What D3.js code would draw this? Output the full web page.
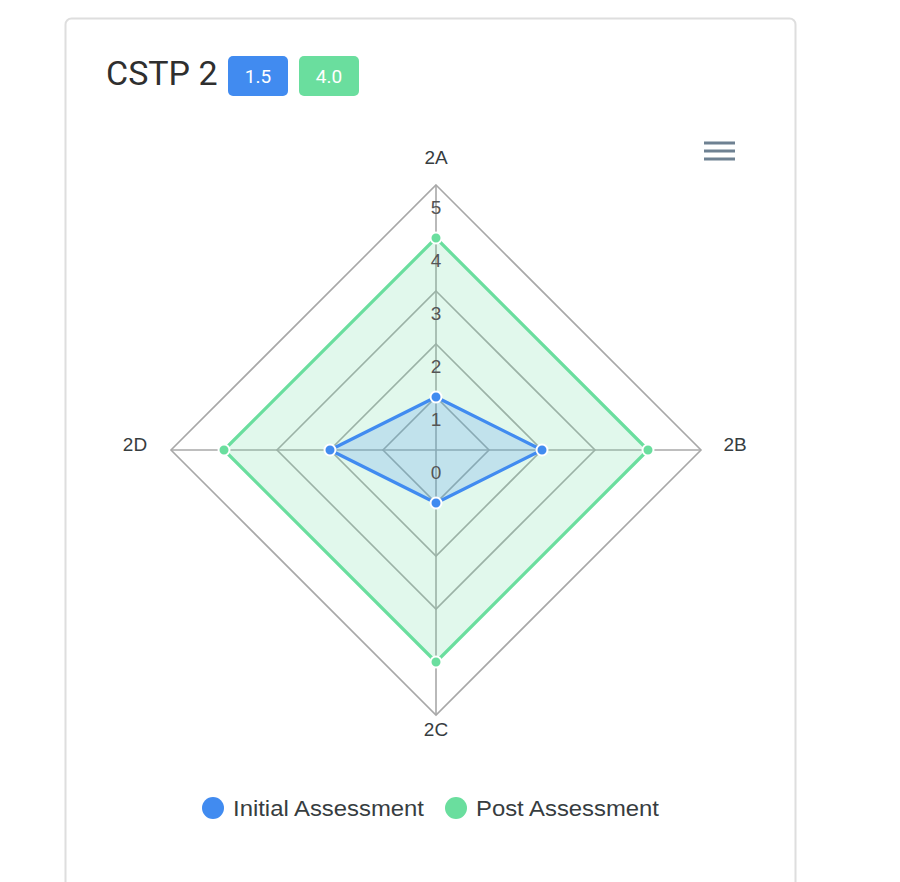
<!DOCTYPE html>
<html>
<head>
<meta charset="utf-8">
<script src="https://cdn.jsdelivr.net/npm/d3@7"></script>
<style>
  body { margin: 0; background: #fff; }
  svg { display: block; }
</style>
</head>
<body>
<div id="chart"></div>
<script>
// Data
const categories = ['2A', '2B', '2C', '2D'];
const initialValues = [1, 2, 1, 2];
const postValues = [4, 4, 4, 4];
const levelTicks = [0, 1, 2, 3, 4, 5];
const seriesNames = ['Initial Assessment', 'Post Assessment'];
const badgeValues = ['1.5', '4.0'];

const colors = ['#418bf0', '#6ade9e'];

const width = 900, height = 882;
const cx = 436, cy = 450, radius = 265;

const svg = d3.select('#chart').append('svg')
    .attr('width', width)
    .attr('height', height);

// Card
svg.append('rect')
    .attr('x', 65.5).attr('y', 18.5)
    .attr('width', 730).attr('height', 900)
    .attr('rx', 6)
    .attr('fill', '#fff')
    .attr('stroke', '#dedede')
    .attr('stroke-width', 2);

// Title + badges
svg.append('text')
    .attr('x', 106).attr('y', 85)
    .attr('font-family', 'Roboto, sans-serif')
    .attr('font-size', 34)
    .attr('fill', '#2f2f2f')
    .text('CSTP 2');

badgeValues.forEach((v, i) => {
    const x = 228 + i * 71;
    svg.append('rect')
        .attr('x', x).attr('y', 56)
        .attr('width', 60).attr('height', 40)
        .attr('rx', 5)
        .attr('fill', colors[i]);
    svg.append('text')
        .attr('x', x + 30).attr('y', 76)
        .attr('dy', '0.36em')
        .attr('text-anchor', 'middle')
        .attr('font-family', 'Roboto, sans-serif')
        .attr('font-size', 19)
        .attr('fill', '#fff')
        .text(v);
});

// Menu icon
[143, 151, 159].forEach(y => {
    svg.append('rect')
        .attr('x', 704).attr('y', y - 1.5)
        .attr('width', 31).attr('height', 3)
        .attr('fill', '#6e8192');
});

// Radar
const r = d3.scaleLinear().domain([0, 5]).range([0, radius]);
const angle = d3.scaleBand().domain(categories).range([0, 2 * Math.PI]);
const pt = (cat, v) => {
    const a = angle(cat) - Math.PI / 2;
    return [cx + r(v) * Math.cos(a), cy + r(v) * Math.sin(a)];
};

const g = svg.append('g');

// grid polygons
levelTicks.filter(d => d > 0).forEach(lv => {
    g.append('polygon')
        .attr('points', categories.map(c => pt(c, lv).join(',')).join(' '))
        .attr('fill', 'none')
        .attr('stroke', '#a8a8a8')
        .attr('stroke-width', 1.6);
});
categories.forEach(c => {
    const [x, y] = pt(c, 5);
    g.append('line')
        .attr('x1', cx).attr('y1', cy)
        .attr('x2', x).attr('y2', y)
        .attr('stroke', '#a8a8a8')
        .attr('stroke-width', 1.6);
});

// series
const series = [postValues, initialValues];
const seriesColors = [colors[1], colors[0]];
series.forEach((vals, i) => {
    const pts = categories.map((c, j) => pt(c, vals[j]));
    g.append('polygon')
        .attr('points', pts.map(p => p.join(',')).join(' '))
        .attr('fill', seriesColors[i])
        .attr('fill-opacity', 0.2)
        .attr('stroke', seriesColors[i])
        .attr('stroke-width', 3.2)
        .attr('stroke-linejoin', 'round');
});
series.forEach((vals, i) => {
    categories.forEach((c, j) => {
        const [x, y] = pt(c, vals[j]);
        g.append('circle')
            .attr('cx', x).attr('cy', y)
            .attr('r', 5.5)
            .attr('fill', seriesColors[i])
            .attr('stroke', '#fff')
            .attr('stroke-width', 2);
    });
});

// level labels
levelTicks.forEach(lv => {
    const [x, y] = pt(categories[0], lv);
    g.append('text')
        .attr('x', x).attr('y', y + 22)
        .attr('dy', '0.35em')
        .attr('text-anchor', 'middle')
        .attr('font-family', 'Helvetica, Arial, sans-serif')
        .attr('font-size', 19)
        .attr('font-weight', 300)
        .attr('fill', '#555')
        .text(lv);
});

// category labels
const labelOffsets = { '2A': [0, -28], '2B': [34, -6], '2C': [0, 14], '2D': [-36, -6] };
categories.forEach(c => {
    const [x, y] = pt(c, 5);
    const o = labelOffsets[c];
    g.append('text')
        .attr('x', x + o[0]).attr('y', y + o[1])
        .attr('dy', '0.35em')
        .attr('text-anchor', 'middle')
        .attr('font-family', 'Helvetica, Arial, sans-serif')
        .attr('font-size', 19)
        .attr('fill', '#373d3f')
        .text(c);
});

// legend
const legendX = [213, 456];
const legendTextLen = [191, 183];
seriesNames.forEach((name, i) => {
    const lg = svg.append('g').attr('transform', `translate(${legendX[i]},808)`);
    lg.append('circle').attr('r', 11).attr('fill', colors[i]);
    lg.append('text')
        .attr('x', 20)
        .attr('dy', '0.35em')
        .attr('font-family', 'Helvetica, Arial, sans-serif')
        .attr('font-size', 22)
        .attr('textLength', legendTextLen[i])
        .attr('lengthAdjust', 'spacingAndGlyphs')
        .attr('fill', '#373d3f')
        .text(name);
});
</script>
</body>
</html>
